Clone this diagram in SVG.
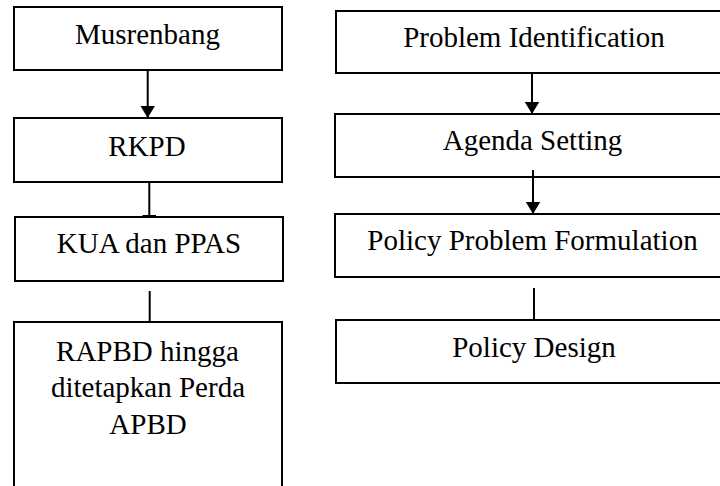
<svg xmlns="http://www.w3.org/2000/svg" width="720" height="486" viewBox="0 0 720 486">
<style>
.box{fill:#fff;stroke:#000;stroke-width:2}
.lbl{font-family:"Liberation Serif","Times New Roman",serif;font-size:29px;fill:#000;text-anchor:middle}
.con{stroke:#000;stroke-width:2;fill:none}
</style>
<defs>
<marker id="arr" markerUnits="userSpaceOnUse" markerWidth="12.5" markerHeight="15" refX="12.5" refY="7.5" orient="auto" viewBox="0 0 12.5 15">
<path d="M0,0 L12.5,7.5 L0,15 Z" fill="#000"/>
</marker>
</defs>
<rect width="720" height="486" fill="#fff"/>
<g id="musrenbang"><rect class="box" x="14" y="7" width="268" height="63"/><text class="lbl" x="147.5" y="44">Musrenbang</text></g>
<g id="rkpd"><rect class="box" x="14" y="118" width="268" height="64"/><text class="lbl" x="147" y="156">RKPD</text></g>
<g id="kua"><rect class="box" x="15" y="217" width="268" height="64"/><text class="lbl" x="149" y="253">KUA dan PPAS</text></g>
<g id="rapbd"><rect class="box" x="14" y="322" width="268" height="180"/><text class="lbl" x="147.5" y="361">RAPBD hingga</text><text class="lbl" x="148" y="397">ditetapkan Perda</text><text class="lbl" x="148" y="433.5">APBD</text></g>
<g id="problem-identification"><rect class="box" x="336" y="11" width="394" height="62"/><text class="lbl" x="534" y="47">Problem Identification</text></g>
<g id="agenda-setting"><rect class="box" x="335" y="114" width="394" height="63"/><text class="lbl" x="532.5" y="149.5">Agenda Setting</text></g>
<g id="policy-problem-formulation"><rect class="box" x="335" y="214" width="394" height="63"/><text class="lbl" x="532.5" y="250">Policy Problem Formulation</text></g>
<g id="policy-design"><rect class="box" x="336" y="320" width="394" height="63"/><text class="lbl" x="534" y="357">Policy Design</text></g>
<g id="connectors">
<line class="con" x1="147.7" y1="70" x2="147.7" y2="118" marker-end="url(#arr)"/>
<line class="con" x1="149.3" y1="182" x2="149.3" y2="217"/>
<line class="con" x1="142.5" y1="216" x2="156" y2="216"/>
<line class="con" x1="149.7" y1="291" x2="149.7" y2="322"/>
<line class="con" x1="532" y1="73" x2="532" y2="114" marker-end="url(#arr)"/>
<line class="con" x1="533" y1="170" x2="533" y2="214" marker-end="url(#arr)"/>
<line class="con" x1="534" y1="288" x2="534" y2="320"/>
</g>
</svg>
